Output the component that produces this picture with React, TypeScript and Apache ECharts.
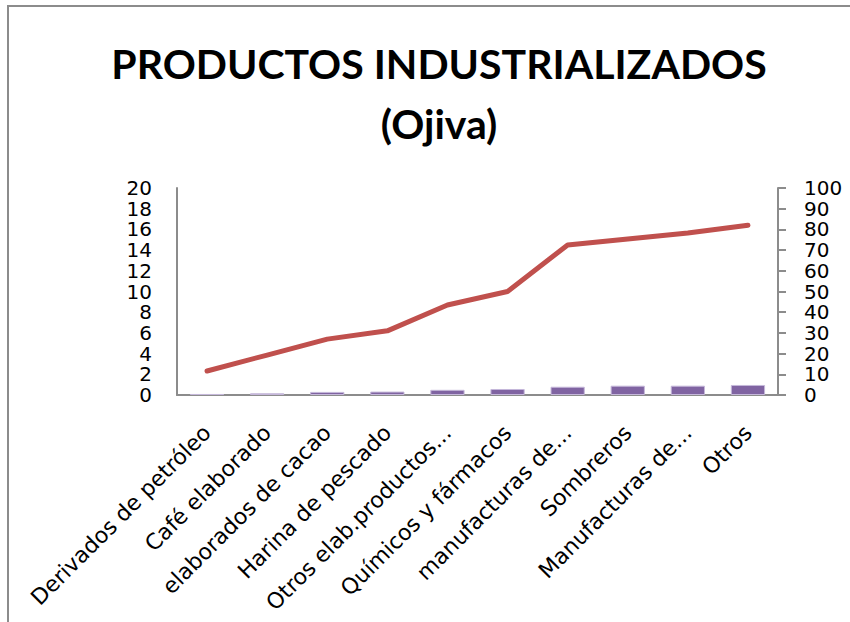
import React, { useEffect, useRef } from "react";
import * as echarts from "echarts";

const categories = [
  "Derivados de petróleo",
  "Café elaborado",
  "elaborados de cacao",
  "Harina de pescado",
  "Otros elab.productos...",
  "Químicos y fármacos",
  "manufacturas de...",
  "Sombreros",
  "Manufacturas de...",
  "Otros",
];
const barValues = [0.1, 0.16, 0.3, 0.33, 0.5, 0.58, 0.8, 0.9, 0.9, 0.97];
const lineValues = [11.6, 19.3, 27, 31, 43.5, 50, 72.5, 75.4, 78.3, 82];
const leftTicks = { min: 0, max: 20, interval: 2 };
const rightTicks = { min: 0, max: 100, interval: 10 };

const TITLE_FONT = "Lato, 'Open Sans', sans-serif";
const FONT = "'DejaVu Sans', sans-serif";

export default function App() {
  const ref = useRef<HTMLDivElement>(null);
  useEffect(() => {
    if (!ref.current) return;
    const chart = echarts.init(ref.current, null, { renderer: "svg" });
    chart.setOption({
      animation: false,
      backgroundColor: "#ffffff",
      title: {
        text: "PRODUCTOS INDUSTRIALIZADOS\n(Ojiva)",
        left: 434,
        top: 28,
        textAlign: "center",
        textStyle: {
          fontFamily: TITLE_FONT,
          fontWeight: "bold",
          fontSize: 41,
          lineHeight: 60,
          color: "#000",
        },
      },
      graphic: [
        {
          type: "rect",
          shape: { x: 8, y: 6, width: 900, height: 700 },
          style: { fill: "none", stroke: "#8c8c8c", lineWidth: 2 },
          silent: true,
        },
      ],
      grid: { left: 177, right: 72, top: 188, bottom: 227 },
      xAxis: {
        type: "category",
        data: categories,
        axisLine: { lineStyle: { color: "#8c8c8c", width: 2 } },
        axisTick: { show: false },
        axisLabel: {
          interval: 0,
          rotate: 45,
          fontFamily: FONT,
          fontSize: 22,
          color: "#000",
          margin: 34,
        },
      },
      yAxis: [
        {
          type: "value",
          ...leftTicks,
          axisLine: { show: true, lineStyle: { color: "#8c8c8c", width: 2 } },
          axisTick: { show: false },
          splitLine: { show: false },
          axisLabel: {
            fontFamily: FONT,
            fontSize: 20,
            lineHeight: 18,
            color: "#000",
            margin: 25,
          },
        },
        {
          type: "value",
          ...rightTicks,
          position: "right",
          axisLine: { show: true, lineStyle: { color: "#8c8c8c", width: 2 } },
          axisTick: { show: true, length: 8, lineStyle: { color: "#8c8c8c", width: 2 } },
          splitLine: { show: false },
          axisLabel: {
            fontFamily: FONT,
            fontSize: 20,
            lineHeight: 18,
            color: "#000",
            margin: 26,
          },
        },
      ],
      series: [
        {
          type: "bar",
          data: barValues,
          yAxisIndex: 0,
          barWidth: "57%",
          itemStyle: { color: "#8064A2", borderColor: "#C5B8DA", borderWidth: 1 },
        },
        {
          type: "line",
          data: lineValues,
          yAxisIndex: 1,
          showSymbol: false,
          symbol: "none",
          lineStyle: { color: "#C0504D", width: 5, cap: "round", join: "round" },
        },
      ],
    });
    return () => chart.dispose();
  }, []);
  return (
    <div
      ref={ref}
      style={{ position: "fixed", left: 0, top: 0, width: 850, height: 622 }}
    />
  );
}
